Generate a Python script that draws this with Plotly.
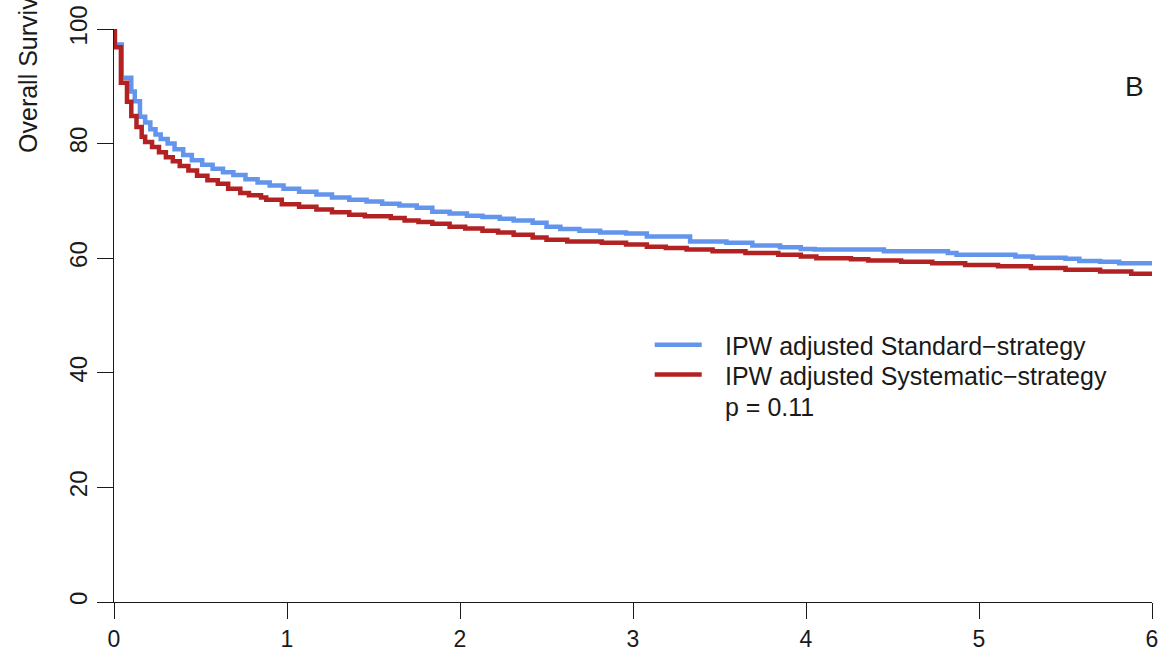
import plotly.graph_objects as go

# Kaplan-Meier style step curves (years vs. overall survival, %)
years_standard = [0, 0.005, 0.045, 0.10, 0.12, 0.15, 0.18, 0.21, 0.24, 0.27, 0.31, 0.35,
                  0.40, 0.45, 0.51, 0.57, 0.63, 0.69, 0.76, 0.83, 0.90, 0.98, 1.07, 1.17,
                  1.26, 1.36, 1.46, 1.55, 1.65, 1.75, 1.84, 1.94, 2.04, 2.13, 2.23, 2.31,
                  2.42, 2.50, 2.58, 2.69, 2.81, 2.96, 3.08, 3.33, 3.54, 3.69, 3.85, 3.97,
                  4.05, 4.45, 4.82, 4.87, 5.21, 5.31, 5.50, 5.58, 5.70, 5.81, 6.0]
surv_standard = [100, 97.3, 91.5, 89.1, 87.4, 84.7, 83.7, 82.5, 81.6, 80.8, 80.0, 79.0,
                 78.0, 77.1, 76.3, 75.6, 75.0, 74.5, 73.8, 73.2, 72.7, 72.1, 71.6, 71.1,
                 70.6, 70.2, 69.9, 69.5, 69.2, 68.8, 68.1, 67.8, 67.4, 67.2, 66.9, 66.6,
                 66.2, 65.5, 65.1, 64.8, 64.5, 64.3, 63.8, 62.9, 62.7, 62.2, 61.9, 61.6,
                 61.5, 61.2, 60.9, 60.6, 60.3, 60.1, 59.9, 59.5, 59.4, 59.1, 59.0]

years_systematic = [0, 0.005, 0.04, 0.075, 0.10, 0.13, 0.16, 0.18, 0.22, 0.26, 0.30, 0.34,
                    0.38, 0.43, 0.48, 0.54, 0.60, 0.66, 0.73, 0.78, 0.85, 0.88, 0.97, 1.07,
                    1.17, 1.26, 1.36, 1.45, 1.60, 1.68, 1.76, 1.84, 1.94, 2.03, 2.13, 2.22,
                    2.31, 2.42, 2.50, 2.62, 2.82, 2.96, 3.08, 3.19, 3.31, 3.46, 3.65, 3.84,
                    3.97, 4.06, 4.26, 4.36, 4.55, 4.73, 4.92, 5.11, 5.30, 5.50, 5.70, 5.88, 6.0]
surv_systematic = [100, 96.8, 90.6, 87.3, 84.8, 82.9, 81.2, 80.3, 79.4, 78.5, 77.6, 76.9,
                   76.1, 75.3, 74.4, 73.6, 73.0, 72.1, 71.4, 71.0, 70.6, 70.2, 69.4, 69.0,
                   68.5, 68.0, 67.6, 67.3, 67.0, 66.6, 66.3, 66.0, 65.5, 65.2, 64.8, 64.5,
                   64.1, 63.6, 63.2, 62.9, 62.7, 62.4, 62.0, 61.8, 61.5, 61.2, 60.9, 60.6,
                   60.3, 60.0, 59.8, 59.6, 59.4, 59.1, 58.8, 58.6, 58.3, 58.0, 57.7, 57.3, 57.0]

x_ticks = [0, 1, 2, 3, 4, 5, 6]
y_ticks = [0, 20, 40, 60, 80, 100]

name_standard = "IPW adjusted Standard\u2212strategy"
name_systematic = "IPW adjusted Systematic\u2212strategy"
p_text = "p = 0.11"
y_title = "Overall Survival (%)"
panel_tag = "B"

col_standard = "#6495ED"
col_systematic = "#B22222"
font_family = "Liberation Sans, Arial, Helvetica, sans-serif"
ink = "#1a1a1a"

fig = go.Figure()
fig.add_trace(go.Scatter(x=years_standard, y=surv_standard, mode="lines",
                         line=dict(shape="hv", color=col_standard, width=4.5),
                         name=name_standard, showlegend=False))
fig.add_trace(go.Scatter(x=years_systematic, y=surv_systematic, mode="lines",
                         line=dict(shape="hv", color=col_systematic, width=4.5),
                         name=name_systematic, showlegend=False))

# legend drawn as keys + labels inside the plot area
key_x0, key_x1, label_x = 0.5209, 0.5662, 0.5864
rows = [0.446, 0.394, 0.341]
for yk, col in zip(rows[:2], [col_standard, col_systematic]):
    fig.add_shape(type="line", xref="paper", yref="paper", x0=key_x0, x1=key_x1,
                  y0=yk + 0.003, y1=yk + 0.003, line=dict(color=col, width=4.5))
for yk, txt in zip(rows, [name_standard, name_systematic, p_text]):
    fig.add_annotation(xref="paper", yref="paper", x=label_x, y=yk, text=txt,
                       showarrow=False, xanchor="left", yanchor="middle",
                       font=dict(size=25, color=ink, family=font_family))

fig.add_annotation(xref="paper", yref="paper", x=0.983, y=0.899, text=panel_tag,
                   showarrow=False, xanchor="center", yanchor="middle",
                   font=dict(size=28, color=ink, family=font_family))

fig.add_annotation(xref="paper", yref="paper", x=-0.0831, y=0.7806, text=y_title,
                   textangle=-90, showarrow=False, xanchor="center", yanchor="bottom",
                   font=dict(size=25, color=ink, family=font_family))

axis_common = dict(showgrid=False, zeroline=False, showline=True, linecolor=ink,
                   linewidth=1, ticks="outside", ticklen=16, tickwidth=1, tickcolor=ink,
                   automargin=False)

fig.update_xaxes(range=[0, 6], tickvals=x_ticks, ticktext=[str(v) for v in x_ticks],
                 tickfont=dict(size=23, color=ink, family=font_family), **axis_common)
fig.update_yaxes(range=[0, 100], tickvals=y_ticks, ticktext=[str(v) for v in y_ticks],
                 tickangle=-90, tickfont=dict(size=24, color=ink, family=font_family),
                 **axis_common)

fig.update_layout(width=1176, height=653, autosize=False,
                  margin=dict(l=114, r=24, t=29, b=51, pad=0),
                  paper_bgcolor="white", plot_bgcolor="white",
                  font=dict(family=font_family, color=ink))

fig.write_html("out.html")
